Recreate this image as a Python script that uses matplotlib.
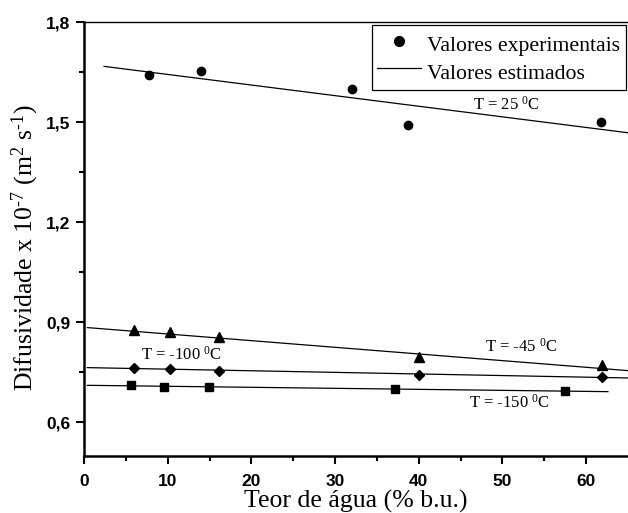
import matplotlib.pyplot as plt
import numpy as np

# teor de agua (% b.u.) e difusividade x 1e-7
x_25 = [7.8, 14.0, 32.0, 38.7, 61.8]
y_25 = [1.642, 1.654, 1.599, 1.491, 1.499]
x_45 = [6.0, 10.3, 16.1, 40.0, 61.9]
y_45 = [0.877, 0.870, 0.855, 0.795, 0.771]
x_100 = [6.0, 10.3, 16.1, 40.0, 61.9]
y_100 = [0.764, 0.759, 0.753, 0.742, 0.736]
x_150 = [5.6, 9.6, 14.9, 37.2, 57.5]
y_150 = [0.712, 0.707, 0.705, 0.700, 0.693]

# retas estimadas (inicio, fim)
fit_25 = ([2.4, 65.0], [1.667, 1.468])
fit_45 = ([0.4, 65.0], [0.884, 0.755])
fit_100 = ([0.4, 65.0], [0.764, 0.733])
fit_150 = ([0.4, 62.6], [0.711, 0.692])

serif = 'Liberation Serif'
sans = 'Liberation Sans'
plt.rcParams['mathtext.fontset'] = 'custom'
plt.rcParams['mathtext.rm'] = serif
plt.rcParams['mathtext.it'] = serif + ':italic'
plt.rcParams['mathtext.bf'] = serif + ':bold'
plt.rcParams['axes.unicode_minus'] = False

fig = plt.figure(figsize=(6.28, 5.13), dpi=100)
ax = fig.add_axes([0.1338, 0.1117, 0.8662, 0.8454])

for fx, fy in [fit_25, fit_45, fit_100, fit_150]:
    ax.plot(fx, fy, color='black', lw=0.9)

ax.plot(x_25, y_25, 'o', color='black', ms=6, ls='none')
ax.plot(x_45, y_45, '^', color='black', ms=6.5, ls='none')
ax.plot(x_100, y_100, 'D', color='black', ms=5.5, ls='none')
ax.plot(x_150, y_150, 's', color='black', ms=5.5, ls='none')

ax.text(50.5, 1.551, 'T = 25 $^\\mathrm{0}$C', family=serif, fontsize=12, ha='center', va='center')
ax.text(52.2, 0.827, 'T = -45 $^\\mathrm{0}$C', family=serif, fontsize=12, ha='center', va='center')
ax.text(11.7, 0.804, 'T = -100 $^\\mathrm{0}$C', family=serif, fontsize=12, ha='center', va='center')
ax.text(50.8, 0.659, 'T = -150 $^\\mathrm{0}$C', family=serif, fontsize=12, ha='center', va='center')

h1, = ax.plot([], [], 'o', color='black', ms=7)
h2, = ax.plot([], [], color='black', lw=0.9)
leg = ax.legend([h1, h2], ['Valores experimentais', 'Valores estimados'],
                loc='upper right', bbox_to_anchor=(1.0, 0.998),
                prop={'family': serif, 'size': 15.7}, fancybox=False,
                edgecolor='black', framealpha=1, borderpad=0.25,
                handlelength=2.0, handleheight=1.5, handletextpad=0.3,
                labelspacing=0.05, borderaxespad=0.1)
leg.get_frame().set_linewidth(0.9)

ax.set_xlim(0, 65)
ax.set_ylim(0.5, 1.8)
ax.set_xticks([0, 10, 20, 30, 40, 50, 60])
ax.set_xticks(np.arange(5, 65, 10), minor=True)
ax.set_yticks([0.6, 0.9, 1.2, 1.5, 1.8])
ax.set_yticks([0.75, 1.05, 1.35, 1.65], minor=True)
ax.set_yticklabels(['0,6', '0,9', '1,2', '1,5', '1,8'])

ax.spines['left'].set_linewidth(1.8)
ax.spines['bottom'].set_linewidth(1.8)
ax.spines['top'].set_linewidth(1.0)
ax.spines['right'].set_visible(False)
ax.tick_params(which='major', direction='out', length=6, width=1.5, pad=4)
ax.tick_params(axis='x', which='major', pad=7)
ax.tick_params(which='minor', direction='out', length=3.5, width=1.5)
for lb in ax.get_xticklabels() + ax.get_yticklabels():
    lb.set_family(sans)
    lb.set_fontweight('bold')
    lb.set_fontsize(12.5)

ax.set_xlabel('Teor de água (% b.u.)', family=serif, fontsize=18.5, labelpad=1)
ax.set_ylabel('Difusividade x 10$^{\\text{-7}}$ (m$^{\\mathrm{2}}$ s$^{\\text{-1}}$)',
              family=serif, fontsize=18.5)
ax.yaxis.set_label_coords(-0.08, 0.48)

fig.savefig('out.png', dpi=100)
